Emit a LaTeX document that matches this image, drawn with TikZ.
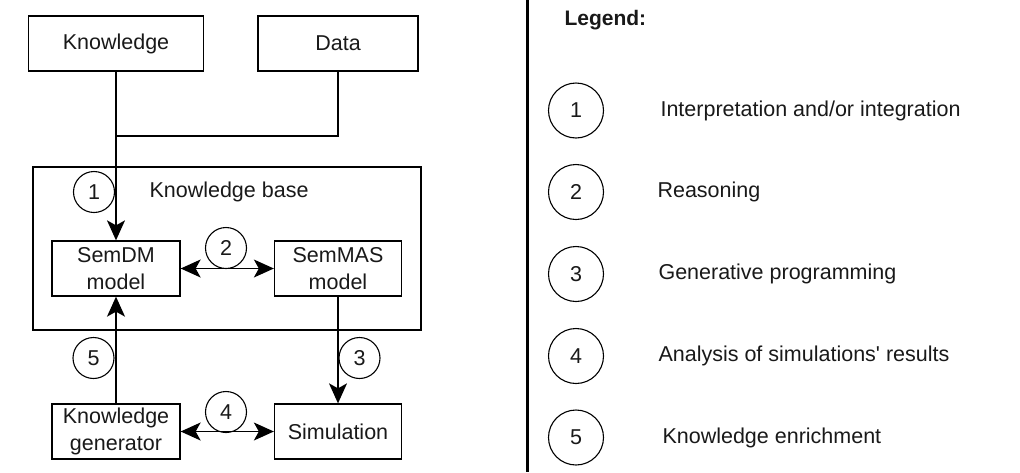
\documentclass[tikz,border=0pt]{standalone}
\usepackage{fontspec}
\setmainfont{Liberation Sans}
\usetikzlibrary{arrows.meta}
\begin{document}
\begin{tikzpicture}[x=1pt,y=-1pt,
  every node/.style={font=\fontsize{21.5}{27}\selectfont, text=black!90},
  block/.style={draw, line width=1.3pt, rectangle, align=center, inner sep=0pt},
  num/.style={draw, line width=1.1pt, circle, inner sep=0pt, minimum size=41pt},
  lnum/.style={draw, line width=1.1pt, circle, inner sep=0pt, minimum size=55pt},
  ltext/.style={anchor=west},
  link/.style={line width=1.4pt},
  head/.tip={Stealth[length=20pt,width=18pt,inset=5pt]},
  tip/.style={-head},
  tips/.style={head-head}]
\useasboundingbox (0,0) rectangle (1020,472);

% inputs
\node[block, minimum width=175pt, minimum height=55pt] (know) at (116,43.5) {Knowledge};
\node[block, minimum width=160pt, minimum height=55pt] (data) at (338,43.5) {Data};

% knowledge base frame and its models
\node[block, minimum width=388pt, minimum height=163pt] (kb) at (227,248.5) {};
\node[anchor=west] (kbl) at (146,192) {Knowledge base};
\node[block, minimum width=128pt, minimum height=55pt] (semdm) at (116,268.5) {SemDM\\model};
\node[block, minimum width=127pt, minimum height=55pt] (semmas) at (338,268.5) {SemMAS\\model};

% simulation loop
\node[block, minimum width=128pt, minimum height=55pt] (kgen) at (116,431.5) {Knowledge\\generator};
\node[block, minimum width=127pt, minimum height=55pt] (sim) at (338,431.5) {Simulation};

% connectors
\coordinate (join) at (116,136);
\draw[link] (data.south) |- (join);
\draw[link, tip] (know.south) -- (semdm.north);
\draw[link, tips] (semdm.east) -- (semmas.west);
\draw[link, tip] (semmas.south) -- (sim.north);
\draw[link, tip] (kgen.north) -- (semdm.south);
\draw[link, tips] (kgen.east) -- (sim.west);

% step markers
\node[num] (n1) at (94,192) {1};
\node[num] (n2) at (226,248) {2};
\node[num] (n3) at (359.5,358) {3};
\node[num] (n4) at (226,412) {4};
\node[num] (n5) at (93.5,358) {5};

% separator
\coordinate (septop) at (527,0);
\coordinate (sepbot) at (527,472);
\draw[line width=3pt] (septop) -- (sepbot);

% legend
\node[anchor=west, font=\fontsize{21}{26}\selectfont\bfseries] (leg) at (561,20.5) {Legend:};
\node[lnum] (l1) at (576,110.5) {1};
\node[lnum] (l2) at (576,192) {2};
\node[lnum] (l3) at (576,274) {3};
\node[lnum] (l4) at (576,356) {4};
\node[lnum] (l5) at (576,437.5) {5};
\node[ltext] (t1) at (657,111) {Interpretation and/or integration};
\node[ltext] (t2) at (654,192) {Reasoning};
\node[ltext] (t3) at (655,274) {Generative programming};
\node[ltext] (t4) at (655,356) {Analysis of simulations\textquotesingle\ results};
\node[ltext] (t5) at (659,437.5) {Knowledge enrichment};
\end{tikzpicture}
\end{document}
